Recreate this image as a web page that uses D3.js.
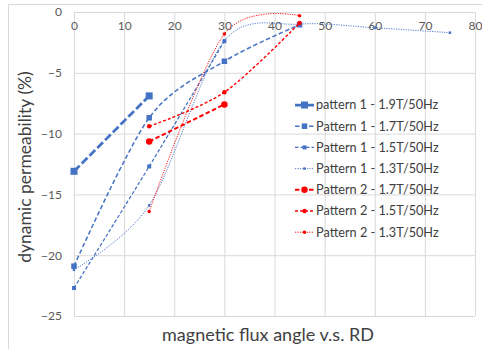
<!DOCTYPE html>
<html>
<head>
<meta charset="utf-8">
<script src="https://cdn.jsdelivr.net/npm/d3@7"></script>
<style>
  body { margin: 0; background: #fff; }
  svg { display: block; font-family: Lato, "Open Sans", sans-serif; }
</style>
</head>
<body>
<div id="chart"></div>
<script>
// tick labels
const xTicks = [0, 10, 20, 30, 40, 50, 60, 70, 80];
const yTicks = [0, -5, -10, -15, -20, -25];

// series
const p1_19_x = [0, 15];
const p1_19_y = [-13.1, -6.9];
const p1_17_x = [0, 15, 30, 45];
const p1_17_y = [-20.9, -8.7, -4.05, -1.05];
const p1_15_x = [0, 15, 30];
const p1_15_y = [-22.7, -12.7, -2.4];
const p1_13_x = [0, 15, 30, 45, 60, 75];
const p1_13_y = [-21.2, -15.9, -2.35, -1.0, -1.3, -1.7];
const p2_17_x = [15, 30];
const p2_17_y = [-10.65, -7.6];
const p2_15_x = [15, 30, 45];
const p2_15_y = [-9.4, -6.6, -0.9];
const p2_13_x = [15, 30, 45];
const p2_13_y = [-16.4, -1.8, -0.3];

const names = ["pattern 1 - 1.9T/50Hz", "Pattern 1 - 1.7T/50Hz", "Pattern 1 - 1.5T/50Hz",
  "Pattern 1 - 1.3T/50Hz", "Pattern 2 - 1.7T/50Hz", "Pattern 2 - 1.5T/50Hz", "Pattern 2 - 1.3T/50Hz"];

const blue = "#4472C4", red = "#FF0000";

// style for each series (same order as names)
const series = [
  {xs: p1_19_x, ys: p1_19_y, color: blue, w: 2.75, dash: "8,3", shape: "square", size: 7, smooth: false},
  {xs: p1_17_x, ys: p1_17_y, color: blue, w: 1.5, dash: "4.5,2.5", shape: "square", size: 5.5, smooth: true},
  {xs: p1_15_x, ys: p1_15_y, color: blue, w: 1.25, dash: "3.5,2", shape: "square", size: 4, smooth: true},
  {xs: p1_13_x, ys: p1_13_y, color: blue, w: 0.9, dash: "1.2,1.2", shape: "square", size: 2.5, smooth: true},
  {xs: p2_17_x, ys: p2_17_y, color: red, w: 2, dash: "4.5,2.5", shape: "circle", size: 6.5, smooth: false},
  {xs: p2_15_x, ys: p2_15_y, color: red, w: 1.4, dash: "3,2", shape: "circle", size: 4.5, smooth: true},
  {xs: p2_13_x, ys: p2_13_y, color: red, w: 0.9, dash: "1.2,1.2", shape: "circle", size: 3.5, smooth: true}
];

const W = 482, H = 349;
const svg = d3.select("#chart").append("svg")
    .attr("width", W)
    .attr("height", H);

// chart frame
svg.append("rect")
    .attr("x", 8.5).attr("y", 4.5)
    .attr("width", 500).attr("height", 400)
    .attr("fill", "#fff")
    .attr("stroke", "#d9d9d9");

let x = d3.scaleLinear().domain([0, 80]).range([74, 475]);
let y = d3.scaleLinear().domain([0, -25]).range([12, 316]);

// gridlines
svg.append("g")
    .attr("transform", "translate(0," + y(-25) + ")")
    .call(d3.axisBottom(x).tickValues(xTicks).tickSize(-(y(-25) - y(0))).tickFormat(""))
    .call(g => g.select(".domain").remove())
    .call(g => g.selectAll("line").attr("stroke", "#d9d9d9"));

svg.append("g")
    .attr("transform", "translate(" + x(0) + ",0)")
    .call(d3.axisLeft(y).tickValues(yTicks).tickSize(-(x(80) - x(0))).tickFormat(""))
    .call(g => g.select(".domain").remove())
    .call(g => g.selectAll("line").attr("stroke", "#d9d9d9"));

// tick labels
svg.append("g")
    .attr("transform", "translate(0," + y(0) + ")")
    .call(d3.axisBottom(x).tickValues(xTicks).tickSize(0).tickPadding(9))
    .call(g => g.select(".domain").remove())
    .call(g => g.selectAll("text").attr("fill", "#595959").style("font-size", "12px").style("font-family", "Lato, sans-serif"));

svg.append("g")
    .attr("transform", "translate(" + x(0) + ",0)")
    .call(d3.axisLeft(y).tickValues(yTicks).tickSize(0).tickPadding(12))
    .call(g => g.select(".domain").remove())
    .call(g => g.selectAll("text").attr("fill", "#595959").style("font-size", "12px").style("font-family", "Lato, sans-serif"));

// axis titles
svg.append("text")
    .attr("transform", "translate(31,167) rotate(-90)")
    .attr("text-anchor", "middle")
    .attr("fill", "#404040")
    .style("font-size", "17.5px")
    .text("dynamic permeability (%)");

svg.append("text")
    .attr("x", 268).attr("y", 341)
    .attr("text-anchor", "middle")
    .attr("fill", "#404040")
    .style("font-size", "18px")
    .text("magnetic flux angle v.s. RD");

function drawMarker(g, s, cx, cy) {
  if (s.shape === "square") {
    g.append("rect")
        .attr("x", cx - s.size / 2).attr("y", cy - s.size / 2)
        .attr("width", s.size).attr("height", s.size)
        .attr("fill", s.color);
  } else {
    g.append("circle")
        .attr("cx", cx).attr("cy", cy)
        .attr("r", s.size / 2)
        .attr("fill", s.color);
  }
}

// series lines and markers
const plot = svg.append("g");
series.forEach(function(s) {
  let pts = s.xs.map((v, i) => [v, s.ys[i]]);
  let line = d3.line()
      .x(d => x(d[0]))
      .y(d => y(d[1]))
      .curve(s.smooth ? d3.curveCardinal.tension(0.1) : d3.curveLinear);
  plot.append("path")
      .attr("d", line(pts))
      .attr("fill", "none")
      .attr("stroke", s.color)
      .attr("stroke-width", s.w)
      .attr("stroke-dasharray", s.dash);
  let mg = plot.append("g");
  pts.forEach(d => drawMarker(mg, s, x(d[0]), y(d[1])));
});

// legend
const legend = svg.append("g");
series.forEach(function(s, i) {
  let ly = 105 + i * 21.2;
  let row = legend.append("g");
  row.append("line")
      .attr("x1", 295).attr("x2", 314)
      .attr("y1", ly).attr("y2", ly)
      .attr("stroke", s.color)
      .attr("stroke-width", s.w)
      .attr("stroke-dasharray", s.dash);
  drawMarker(row, s, 304.5, ly);
  row.append("text")
      .attr("x", 316).attr("y", ly)
      .attr("dy", "0.35em")
      .attr("fill", "#404040")
      .style("font-size", "12.7px")
      .text(names[i]);
});
</script>
</body>
</html>
